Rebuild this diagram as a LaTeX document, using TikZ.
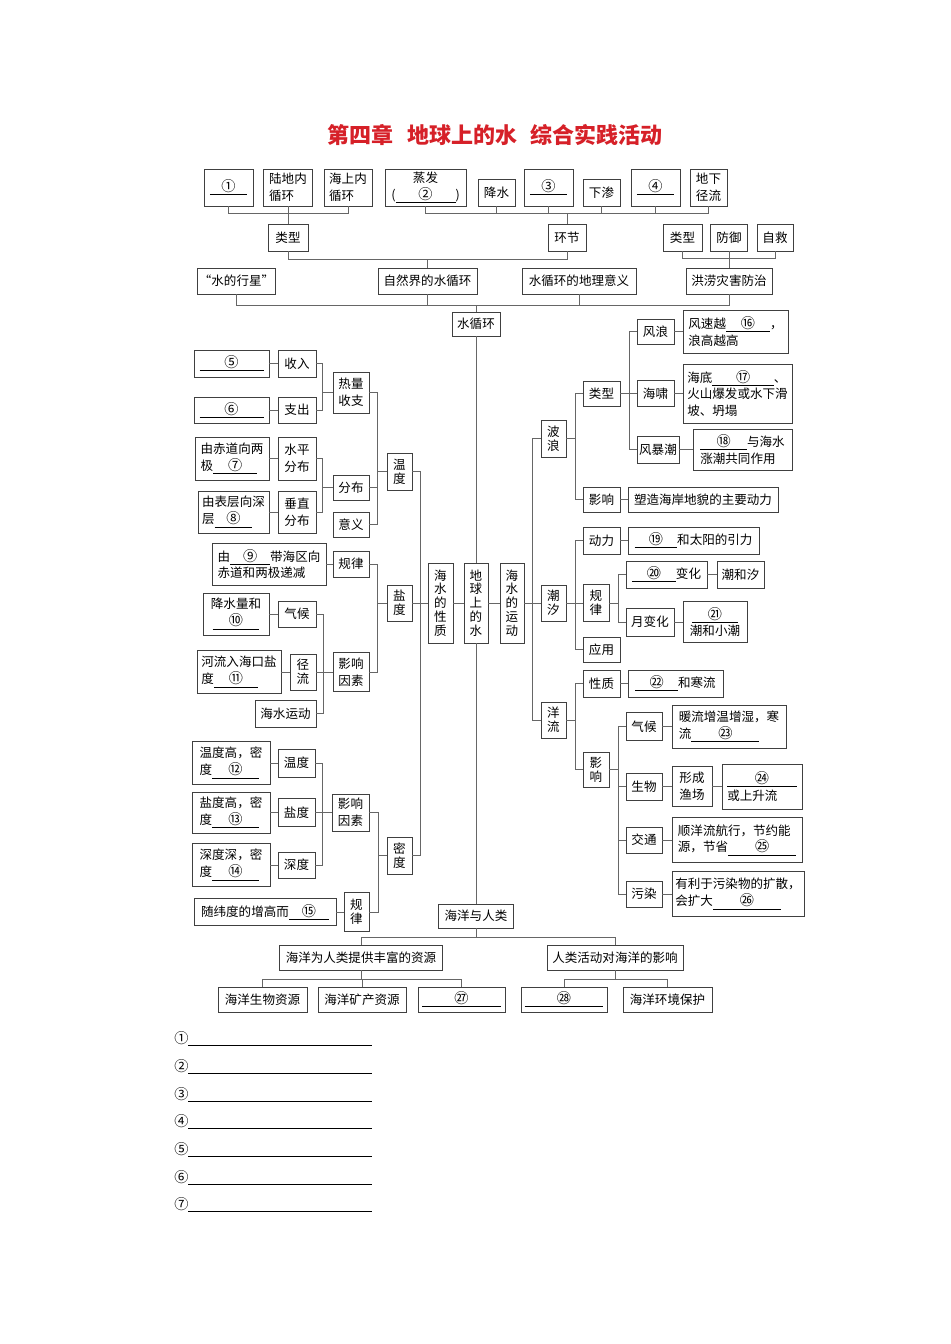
\documentclass[tikz,border=0pt]{standalone}
\usepackage{fontspec}
\setmainfont{Noto Sans CJK SC}
\usetikzlibrary{calc}
\definecolor{titlered}{RGB}{214,32,40}
\newcommand{\bxfont}{\fontsize{9.4}{12.6}\selectfont}
\newcommand{\vtfont}{\fontsize{9.4}{10.4}\selectfont}
\newcommand{\cn}[1]{{\fontsize{10.6}{12}\selectfont #1}}
\newcommand{\blank}[2]{\underline{\makebox[#1]{\cn{#2}}}}

\begin{document}
\begin{tikzpicture}[x=0.75pt,y=0.75pt,yscale=-1,xscale=1,
  box/.style={draw=black!75,line width=0.6pt,inner sep=1pt,font=\bxfont,align=center},
  lbox/.style={box,align=left},
  vbox/.style={box,font=\vtfont},
  wh/.style 2 args={minimum width=#1*0.75pt,minimum height=#2*0.75pt},
  link/.style={draw=black!60,line width=0.6pt}]
\fill[white] (0,0) rectangle (950,1344);
\useasboundingbox (0,0) rectangle (950,1344);

% Title
\node[font=\fontsize{16.5}{18}\selectfont\bfseries,text=titlered] (title) at (495,135) {第四章\hspace{0.6em}地球上的水\hspace{0.6em}综合实践活动};

% top row
\node[box,wh={49}{37}] (q1) at (228.5,187.5) {\blank{28pt}{①}};
\node[lbox,wh={49}{37}] (ldn) at (288,187.5) {陆地内\\循环};
\node[lbox,wh={48}{37}] (hsn) at (348,187.5) {海上内\\循环};
\node[box,wh={81}{37}] (zf) at (425.5,187.5) {蒸发\\(\blank{45pt}{②})};
\node[box,wh={37}{27}] (js) at (496.5,192.5) {降水};
\node[box,wh={49}{37}] (q3) at (548.5,187.5) {\blank{28pt}{③}};
\node[box,wh={37}{27}] (xs) at (601.5,192.5) {下渗};
\node[box,wh={49}{37}] (q4) at (655.5,187.5) {\blank{28pt}{④}};
\node[box,wh={37}{37}] (dxjl) at (708.5,187.5) {地下\\径流};

\node[box,wh={40}{27}] (lx1) at (288,237.5) {类型};
\node[box,wh={38}{27}] (hj) at (567,237.5) {环节};
\node[box,wh={39}{27}] (lx2) at (682.5,237.5) {类型};
\node[box,wh={37}{27}] (fy) at (729,237.5) {防御};
\node[box,wh={36}{27}] (zj) at (775,237.5) {自救};

\node[box,wh={77}{26}] (xx) at (236.5,281) {“水的行星”};
\node[box,wh={99}{26}] (zrj) at (427.5,281) {自然界的水循环};
\node[box,wh={114}{26}] (dlyy) at (579,281) {水循环的地理意义};
\node[box,wh={86}{26}] (hl) at (729,281) {洪涝灾害防治};

\node[box,wh={48}{24}] (sxh) at (476,324) {水循环};

% centre column
\node[vbox,wh={24}{80}] (dq) at (476,603) {地\\球\\上\\的\\水};
\node[vbox,wh={25}{80}] (xz) at (440.5,603) {海\\水\\的\\性\\质};
\node[vbox,wh={24}{80}] (yd) at (512,603) {海\\水\\的\\运\\动};
\node[box,wh={75}{24}] (hyrl) at (476,916) {海洋与人类};

% left: temperature
\node[vbox,wh={25}{37}] (wd) at (399.5,471.5) {温\\度};
\node[box,wh={36}{41}] (rlsz) at (351,392.5) {热量\\收支};
\node[box,wh={36}{25}] (fb) at (351,487.5) {分布};
\node[box,wh={36}{25}] (yy) at (351,524.5) {意义};
\node[box,wh={38}{27}] (sr) at (297,363.5) {收入};
\node[box,wh={38}{26}] (zc) at (297,410) {支出};
\node[box,wh={75}{27}] (b5) at (231.5,363.5) {\blank{48pt}{⑤}};
\node[box,wh={75}{26}] (b6) at (231.5,410) {\blank{48pt}{⑥}};
\node[box,wh={38}{43}] (spfb) at (297,458.5) {水平\\分布};
\node[box,wh={38}{42}] (czfb) at (297,512) {垂直\\分布};
\node[lbox,wh={74}{43}] (b7) at (232,458.5) {由赤道向两\\极\blank{33pt}{⑦}};
\node[lbox,wh={71}{42}] (b8) at (233.5,512) {由表层向深\\层\blank{28pt}{⑧}};

% left: salinity
\node[vbox,wh={25}{36}] (yandu) at (399.5,603) {盐\\度};
\node[box,wh={36}{26}] (gl1) at (351,564) {规律};
\node[box,wh={36}{39}] (yxys1) at (351,672) {影响\\因素};
\node[lbox,wh={114}{42}] (b9) at (269,564) {由\blank{30pt}{⑨}带海区向\\赤道和两极递减};
\node[box,wh={38}{26}] (qh1) at (297,614) {气候};
\node[vbox,wh={26}{36}] (jl) at (303,672) {径\\流};
\node[box,wh={61}{27}] (hsyd) at (285.5,713.5) {海水运动};
\node[box,wh={66}{42}] (b10) at (236,614) {降水量和\\\blank{35pt}{⑩}};
\node[lbox,wh={84}{43}] (b11) at (239,672) {河流入海口盐\\度\blank{33pt}{⑪}};

% left: density
\node[vbox,wh={25}{37}] (md) at (399.5,855.5) {密\\度};
\node[box,wh={37}{37}] (yxys2) at (350.5,812.5) {影响\\因素};
\node[vbox,wh={25}{39}] (gl2) at (356.5,912) {规\\律};
\node[box,wh={37}{28}] (wd2) at (296.5,763) {温度};
\node[box,wh={37}{28}] (yd2) at (296.5,812.5) {盐度};
\node[box,wh={37}{26}] (sd) at (296.5,865) {深度};
\node[lbox,wh={78}{43}] (b12) at (231,763) {温度高，密\\度\blank{35pt}{⑫}};
\node[lbox,wh={78}{41}] (b13) at (231,812.5) {盐度高，密\\度\blank{35pt}{⑬}};
\node[lbox,wh={78}{43}] (b14) at (231,865) {深度深，密\\度\blank{35pt}{⑭}};
\node[box,wh={142}{27}] (b15) at (265,912) {随纬度的增高而\blank{30pt}{⑮}};

% right: waves
\node[vbox,wh={25}{37}] (bl) at (553.5,438.5) {波\\浪};
\node[box,wh={37}{25}] (lx3) at (601.5,393.5) {类型};
\node[box,wh={37}{25}] (yx1) at (601.5,499.5) {影响};
\node[box,wh={150}{25}] (tx1) at (703,499.5) {塑造海岸地貌的主要动力};
\node[box,wh={37}{25}] (fl) at (655.5,331.5) {风浪};
\node[box,wh={37}{26}] (hx) at (655.5,393.5) {海啸};
\node[box,wh={42}{27}] (fbc) at (658,449.5) {风暴潮};
\node[lbox,wh={105}{43}] (b16) at (735.5,331.5) {风速越\blank{33pt}{⑯}，\\浪高越高};
\node[lbox,wh={109}{59}] (b17) at (737.5,393.5) {海底\blank{46pt}{⑰}、\\火山爆发或水下滑\\坡、坍塌};
\node[lbox,wh={99}{41}] (b18) at (742.5,449.5) {\blank{35pt}{⑱}与海水\\涨潮共同作用};

% right: tides
\node[vbox,wh={25}{36}] (cx) at (553.5,603) {潮\\汐};
\node[box,wh={37}{27}] (dl) at (601.5,540.5) {动力};
\node[vbox,wh={26}{37}] (gl3) at (596,603) {规\\律};
\node[box,wh={37}{25}] (yy2) at (601.5,649.5) {应用};
\node[box,wh={131}{27}] (b19) at (693.5,540.5) {\blank{32pt}{⑲}和太阳的引力};
\node[box,wh={81}{27}] (b20) at (666.5,574.5) {\blank{33pt}{⑳}变化};
\node[box,wh={48}{28}] (ybh) at (650,622) {月变化};
\node[box,wh={47}{27}] (chx) at (740.5,574.5) {潮和汐};
\node[box,wh={64}{41}] (b21) at (715,622) {\blank{34pt}{㉑}\\潮和小潮};

% right: currents
\node[vbox,wh={25}{36}] (yl) at (553.5,720) {洋\\流};
\node[box,wh={37}{27}] (xz2) at (601.5,683.5) {性质};
\node[box,wh={95}{27}] (b22) at (675.5,683.5) {\blank{32pt}{㉒}和寒流};
\node[vbox,wh={26}{35}] (yx2) at (596,769.5) {影\\响};
\node[box,wh={36}{28}] (qh2) at (644,726.5) {气候};
\node[box,wh={36}{27}] (sw) at (644,786.5) {生物};
\node[box,wh={36}{26}] (jt) at (644,840) {交通};
\node[box,wh={36}{26}] (wr) at (644,894) {污染};
\node[lbox,wh={114}{43}] (b23) at (729,726.5) {暖流增温增湿，寒\\流\blank{51pt}{㉓}};
\node[lbox,wh={40}{40}] (xcyc) at (692,786.5) {形成\\渔场};
\node[lbox,wh={80}{45}] (b24) at (762,786.5) {\blank{52pt}{㉔}\\或上升流};
\node[lbox,wh={130}{45}] (b25) at (737,840) {顺洋流航行，节约能\\源，节省\blank{51pt}{㉕}};
\node[lbox,wh={132}{45}] (b26) at (738,894) {有利于污染物的扩散，\\会扩大\blank{51pt}{㉖}};

% bottom
\node[box,wh={163}{25}] (hyr) at (361,957.5) {海洋为人类提供丰富的资源};
\node[box,wh={136}{25}] (rlhd) at (615,957.5) {人类活动对海洋的影响};
\node[box,wh={89}{25}] (swzy) at (262.5,999.5) {海洋生物资源};
\node[box,wh={88}{25}] (kczy) at (362,999.5) {海洋矿产资源};
\node[box,wh={87}{25}] (b27) at (461.5,999.5) {\blank{59pt}{㉗}};
\node[box,wh={86}{25}] (b28) at (564,999.5) {\blank{59pt}{㉘}};
\node[box,wh={89}{25}] (hjbh) at (667.5,999.5) {海洋环境保护};

% answer lines
\foreach \c [count=\i] in {①,②,③,④,⑤,⑥,⑦}
  \node[font=\bxfont,anchor=west,inner sep=0pt] (ans\i) at (174,{1039+27.7*(\i-1)}) {\cn{\c}\blank{138pt}{}};

%% connectors, top part
\coordinate (t1) at ($(lx1.north)+(0,-10)$);
\draw[link] (q1.south) |- (t1) -| (hsn.south);
\draw[link] (ldn.south) -- (lx1.north);
\coordinate (t2) at ($(hj.north)+(0,-10)$);
\draw[link] (zf.south) |- (t2) -| (dxjl.south);
\foreach \n in {js,q3,xs,q4} \draw[link] (\n.south) -- (\n.south |- t2);
\draw[link] (hj.north) -- (t2);
\coordinate (t3) at ($(zrj.north)+(0,-8)$);
\draw[link] (lx1.south) |- (t3) -| (hj.south);
\draw[link] (zrj.north) -- (t3);
\coordinate (t4) at ($(hl.north)+(0,-9)$);
\draw[link] (lx2.south) |- (t4) -| (zj.south);
\draw[link] (fy.south) -- (hl.north);
\coordinate (t5) at ($(sxh.north)+(0,-6)$);
\draw[link] (xx.south) |- (t5) -| (hl.south);
\foreach \n in {zrj,dlyy} \draw[link] (\n.south) -- (\n.south |- t5);
\draw[link] (sxh.north) -- (t5);

%% centre
\draw[link] (sxh.south) -- (dq.north);
\draw[link] (dq.south) -- (hyrl.north);
\draw[link] (xz.east) -- (dq.west);
\draw[link] (dq.east) -- (yd.west);

%% left side
\coordinate (s1) at ($(xz.west)+(-7,0)$);
\draw[link] (wd.east) -| (s1) |- (md.east);
\draw[link] (yandu.east) -- (xz.west);
\coordinate (s2) at ($(wd.west)+(-9,0)$);
\draw[link] (rlsz.east) -| (s2) |- (yy.east);
\draw[link] (fb.east) -- (fb.east -| s2);
\draw[link] (wd.west) -- (s2);
\coordinate (s3) at ($(rlsz.west)+(-10,0)$);
\draw[link] (sr.east) -| (s3) |- (zc.east);
\draw[link] (rlsz.west) -- (s3);
\draw[link] (b5.east) -- (sr.west);
\draw[link] (b6.east) -- (zc.west);
\coordinate (s4) at ($(fb.west)+(-10,0)$);
\draw[link] (spfb.east) -| (s4) |- (czfb.east);
\draw[link] (fb.west) -- (s4);
\draw[link] (b7.east) -- (spfb.west);
\draw[link] (b8.east) -- (czfb.west);
\coordinate (s5) at ($(yandu.west)+(-9,0)$);
\draw[link] (gl1.east) -| (s5) |- (yxys1.east);
\draw[link] (yandu.west) -- (s5);
\draw[link] (b9.east) -- (gl1.west);
\coordinate (s6) at ($(yxys1.west)+(-9,0)$);
\draw[link] (qh1.east) -| (s6) |- (hsyd.east);
\draw[link] (jl.east) -- (yxys1.west);
\draw[link] (b10.east) -- (qh1.west);
\draw[link] (b11.east) -- (jl.west);
\coordinate (s7) at ($(md.west)+(-8,0)$);
\draw[link] (yxys2.east) -| (s7) |- (gl2.east);
\draw[link] (md.west) -- (s7);
\draw[link] (b15.east) -- (gl2.west);
\coordinate (s8) at ($(yxys2.west)+(-9,0)$);
\draw[link] (wd2.east) -| (s8) |- (sd.east);
\draw[link] (yd2.east) -- (yxys2.west);
\draw[link] (b12.east) -- (wd2.west);
\draw[link] (b13.east) -- (yd2.west);
\draw[link] (b14.east) -- (sd.west);

%% right side
\coordinate (s9) at ($(yd.east)+(8,0)$);
\draw[link] (bl.west) -| (s9) |- (yl.west);
\draw[link] (yd.east) -- (cx.west);
\coordinate (s10) at ($(bl.east)+(9,0)$);
\draw[link] (lx3.west) -| (s10) |- (yx1.west);
\draw[link] (bl.east) -- (s10);
\draw[link] (yx1.east) -- (tx1.west);
\coordinate (s11) at ($(lx3.east)+(9,0)$);
\draw[link] (fl.west) -| (s11) |- (fbc.west);
\draw[link] (lx3.east) -- (hx.west);
\draw[link] (fl.east) -- (b16.west);
\draw[link] (hx.east) -- (b17.west);
\draw[link] (fbc.east) -- (b18.west);
\coordinate (s12) at ($(cx.east)+(9,0)$);
\draw[link] (dl.west) -| (s12) |- (yy2.west);
\draw[link] (cx.east) -- (gl3.west);
\draw[link] (dl.east) -- (b19.west);
\coordinate (s13) at ($(gl3.east)+(9,0)$);
\draw[link] (b20.west) -| (s13) |- (ybh.west);
\draw[link] (gl3.east) -- (s13);
\draw[link] (b20.east) -- (chx.west);
\draw[link] (ybh.east) -- (b21.west);
\coordinate (s14) at ($(yl.east)+(9,0)$);
\draw[link] (xz2.west) -| (s14) |- (yx2.west);
\draw[link] (yl.east) -- (s14);
\draw[link] (xz2.east) -- (b22.west);
\coordinate (s15) at ($(yx2.east)+(9,0)$);
\draw[link] (qh2.west) -| (s15) |- (wr.west);
\draw[link] (yx2.east) -- (s15);
\foreach \n in {sw,jt} \draw[link] (\n.west) -- (\n.west -| s15);
\draw[link] (qh2.east) -- (b23.west);
\draw[link] (sw.east) -- (xcyc.west);
\draw[link] (xcyc.east) -- (b24.west);
\draw[link] (jt.east) -- (b25.west);
\draw[link] (wr.east) -- (b26.west);

%% bottom
\coordinate (t6) at ($(hyrl.south)+(0,9)$);
\draw[link] (hyr.north) |- (t6) -| (rlhd.north);
\draw[link] (hyrl.south) -- (t6);
\coordinate (t7) at ($(hyr.south)+(0,9)$);
\draw[link] (swzy.north) |- (t7) -| (b27.north);
\draw[link] (hyr.south) -- (t7);
\draw[link] (kczy.north) -- (kczy.north |- t7);
\coordinate (t8) at ($(rlhd.south)+(0,9)$);
\draw[link] (b28.north) |- (t8) -| (hjbh.north);
\draw[link] (rlhd.south) -- (t8);
\end{tikzpicture}
\end{document}
